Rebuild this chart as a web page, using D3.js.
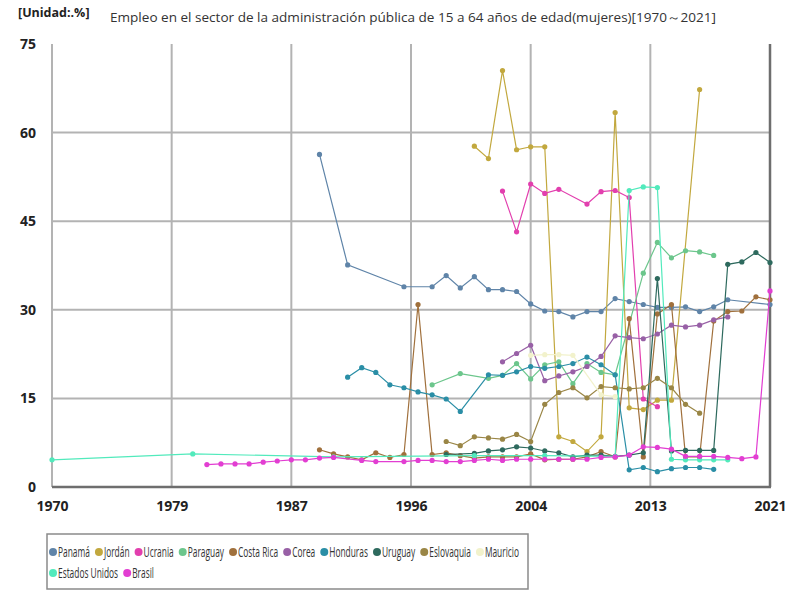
<!DOCTYPE html>
<html>
<head>
<meta charset="utf-8">
<script src="https://cdn.jsdelivr.net/npm/d3@7"></script>
<style>
  body { margin: 0; background: #fff; }
  svg { font-family: "Open Sans", sans-serif; }
</style>
</head>
<body>
<div id="chart"></div>
<script>
// series values: [year, %]
const panama = [[1989,56.3],[1991,37.6],[1995,33.9],[1997,33.9],[1998,35.8],[1999,33.7],[2000,35.6],[2001,33.4],[2002,33.4],[2003,33.1],[2004,31.0],[2005,29.8],[2006,29.7],[2007,28.8],[2008,29.7],[2009,29.7],[2010,31.9],[2011,31.4],[2012,30.9],[2013,30.4],[2014,30.4],[2015,30.5],[2016,29.7],[2017,30.5],[2018,31.7],[2021,30.9]];
const jordan = [[2000,57.7],[2001,55.6],[2002,70.5],[2003,57.1],[2004,57.6],[2005,57.6],[2006,8.5],[2007,7.7],[2008,6.0],[2009,8.5],[2010,63.4],[2011,13.4],[2012,13.1],[2013,14.7],[2014,14.7],[2016,67.3]];
const ucrania = [[2002,50.1],[2003,43.2],[2004,51.3],[2005,49.7],[2006,50.4],[2008,47.9],[2009,50.0],[2010,50.2],[2011,49.0],[2012,14.9],[2013,13.6]];
const paraguay = [[1997,17.3],[1999,19.2],[2001,18.4],[2002,18.9],[2003,20.9],[2004,18.3],[2005,20.7],[2006,21.2],[2007,17.5],[2008,20.9],[2009,19.4],[2010,19.0],[2012,36.2],[2013,41.4],[2014,38.8],[2015,40.0],[2016,39.8],[2017,39.2]];
const costaRica = [[1989,6.3],[1990,5.6],[1991,5.1],[1992,4.6],[1993,5.8],[1994,5.0],[1995,5.5],[1996,30.9],[1997,5.5],[1998,5.8],[1999,5.3],[2000,4.9],[2001,5.1],[2002,5.1],[2003,5.1],[2004,5.6],[2005,4.6],[2006,4.7],[2007,4.7],[2008,5.1],[2009,6.0],[2010,5.1],[2011,28.5],[2012,5.1],[2013,29.3],[2014,30.9],[2015,5.1],[2016,5.1],[2017,28.1],[2018,29.7],[2019,29.8],[2020,32.2],[2021,31.7]];
const corea = [[2002,21.2],[2003,22.6],[2004,24.0],[2005,18.0],[2006,18.8],[2007,19.5],[2008,20.4],[2009,22.1],[2010,25.6],[2011,25.3],[2012,25.1],[2013,25.9],[2014,27.4],[2015,27.1],[2016,27.4],[2017,28.3],[2018,28.8]];
const honduras = [[1991,18.6],[1992,20.2],[1993,19.4],[1994,17.3],[1995,16.8],[1996,16.1],[1997,15.6],[1998,14.9],[1999,12.8],[2001,19.0],[2002,18.9],[2003,19.5],[2004,20.4],[2005,20.1],[2006,20.4],[2007,20.9],[2008,22.0],[2009,20.7],[2010,19.0],[2011,2.9],[2012,3.3],[2013,2.6],[2014,3.1],[2015,3.3],[2016,3.3],[2017,3.0]];
const uruguay = [[1998,5.5],[2000,5.7],[2001,6.1],[2002,6.3],[2003,6.8],[2004,6.6],[2005,6.1],[2006,5.8],[2007,5.1],[2008,5.4],[2009,5.4],[2010,5.2],[2011,5.4],[2012,5.8],[2013,35.3],[2014,6.1],[2015,6.2],[2016,6.2],[2017,6.2],[2018,37.7],[2019,38.1],[2020,39.7],[2021,38.0]];
const eslovaquia = [[1998,7.7],[1999,7.0],[2000,8.5],[2001,8.3],[2002,8.1],[2003,8.9],[2004,7.7],[2005,14.0],[2006,16.0],[2007,16.8],[2008,15.1],[2009,17.0],[2010,16.8],[2011,16.6],[2012,16.8],[2013,18.4],[2014,16.8],[2015,14.0],[2016,12.5]];
const mauricio = [[2004,22.3],[2005,22.4],[2006,22.4],[2007,22.3],[2009,15.6],[2010,15.3]];
const estadosUnidos = [[1970,4.6],[1980,5.6],[1990,5.1],[2000,5.3],[2005,5.3],[2010,5.2],[2011,50.2],[2012,50.8],[2013,50.7],[2014,4.7],[2015,4.6],[2016,4.6],[2017,4.6],[2018,4.6]];
const brasil = [[1981,3.8],[1982,3.9],[1983,3.9],[1984,3.9],[1985,4.2],[1986,4.4],[1987,4.6],[1988,4.6],[1989,4.9],[1990,5.0],[1992,4.5],[1993,4.3],[1995,4.3],[1996,4.5],[1997,4.5],[1998,4.3],[1999,4.3],[2000,4.5],[2001,4.7],[2002,4.5],[2003,4.7],[2004,4.7],[2005,4.7],[2006,4.7],[2007,4.7],[2008,4.7],[2009,5.0],[2010,5.1],[2011,5.4],[2012,6.8],[2013,6.7],[2014,6.4],[2015,5.2],[2016,5.2],[2017,5.2],[2018,5.0],[2019,4.8],[2020,5.1],[2021,33.2]];

const seriesNames = ["Panamá","Jordán","Ucrania","Paraguay","Costa Rica","Corea","Honduras","Uruguay","Eslovaquia","Mauricio","Estados Unidos","Brasil"];
const seriesValues = [panama, jordan, ucrania, paraguay, costaRica, corea, honduras, uruguay, eslovaquia, mauricio, estadosUnidos, brasil];
const seriesColors = ["#5f84a8","#c2a83e","#e23fae","#6cc68c","#a0703c","#9860a6","#2a8ea6","#2e6a5e","#9a8646","#f2f2cc","#52eabc","#e23ed2"];

const xTickLabels = ["1970","1979","1987","1996","2004","2013","2021"];
const yTickValues = [0, 15, 30, 45, 60, 75];

const unitLabel = "[Unidad:.%]";
const titleText = "Empleo en el sector de la administración pública de 15 a 64 años de edad(mujeres)[1970～2021]";

const width = 800, height = 600;
const margin = { top: 44, right: 30, bottom: 113, left: 52 };

const svg = d3.select("#chart").append("svg")
  .attr("width", width)
  .attr("height", height);

const x = d3.scaleLinear()
  .domain([1970, 2021])
  .range([margin.left, width - margin.right]);

const y = d3.scaleLinear()
  .domain([0, 75])
  .range([height - margin.bottom, margin.top]);

const xTickValues = xTickLabels.map((d, i) => 1970 + i * (2021 - 1970) / (xTickLabels.length - 1));

// grid
svg.append("g")
  .selectAll("line")
  .data(yTickValues.filter(d => d > 0 && d < 75))
  .join("line")
  .attr("x1", x(1970)).attr("x2", x(2021))
  .attr("y1", d => y(d)).attr("y2", d => y(d))
  .attr("stroke", "#b3b3b3").attr("stroke-width", 2);

svg.append("g")
  .selectAll("line")
  .data(xTickValues)
  .join("line")
  .attr("x1", d => x(d)).attr("x2", d => x(d))
  .attr("y1", y(75)).attr("y2", y(0))
  .attr("stroke", "#b3b3b3").attr("stroke-width", 2);

// frame: bottom and right edges
svg.append("line")
  .attr("x1", x(1970)).attr("x2", x(2021) + 1)
  .attr("y1", y(0)).attr("y2", y(0))
  .attr("stroke", "#6e6e6e").attr("stroke-width", 2.5);
svg.append("line")
  .attr("x1", x(2021)).attr("x2", x(2021))
  .attr("y1", y(75)).attr("y2", y(0))
  .attr("stroke", "#6e6e6e").attr("stroke-width", 2.5);

// axes (labels only)
const xAxis = svg.append("g")
  .attr("transform", `translate(0,${y(0)})`)
  .call(d3.axisBottom(x).tickValues(xTickValues).tickFormat((d, i) => xTickLabels[i]).tickSize(0).tickPadding(14));
xAxis.select(".domain").remove();
xAxis.selectAll("text")
  .attr("font-family", "'Open Sans', sans-serif")
  .attr("font-size", 14).attr("font-weight", "bold").attr("fill", "#222");

const yAxis = svg.append("g")
  .attr("transform", `translate(${margin.left},0)`)
  .call(d3.axisLeft(y).tickValues(yTickValues).tickSize(0).tickPadding(16));
yAxis.select(".domain").remove();
yAxis.selectAll("text")
  .attr("font-family", "'Open Sans', sans-serif")
  .attr("font-size", 14).attr("font-weight", "bold").attr("fill", "#222");

// lines and points
const line = d3.line()
  .x(d => x(d[0]))
  .y(d => y(d[1]));

seriesValues.forEach((data, i) => {
  const g = svg.append("g");
  g.append("path")
    .datum(data)
    .attr("fill", "none")
    .attr("stroke", seriesColors[i])
    .attr("stroke-width", 1.2)
    .attr("d", line);
  g.selectAll("circle")
    .data(data)
    .join("circle")
    .attr("cx", d => x(d[0]))
    .attr("cy", d => y(d[1]))
    .attr("r", 2.6)
    .attr("fill", seriesColors[i]);
});

// titles
svg.append("text")
  .attr("x", 18).attr("y", 17)
  .attr("font-size", 12.5).attr("font-weight", "bold").attr("fill", "#222")
  .text(unitLabel);

svg.append("text")
  .attr("x", 110).attr("y", 22)
  .attr("font-size", 13).attr("fill", "#333")
  .attr("textLength", 606).attr("lengthAdjust", "spacingAndGlyphs")
  .text(titleText);

// legend: first row holds 10 entries, squeezed horizontally to the box width
const legend = svg.append("g");
legend.append("rect")
  .attr("x", 47).attr("y", 534)
  .attr("width", 481).attr("height", 55)
  .attr("fill", "#fff").attr("stroke", "#8a8a8a").attr("stroke-width", 1.5);

const rowSize = 10, startX = 53, rowEnd = 519, markGap = 5, itemGap = 9;
const items = seriesNames.map((name, i) => {
  const item = legend.append("g");
  item.append("circle").attr("r", 4).attr("fill", seriesColors[i]);
  const t = item.append("text")
    .attr("font-size", 14).attr("fill", "#333")
    .text(name);
  return { item, t, len: t.node().getComputedTextLength() };
});
const row1Len = d3.sum(items.slice(0, rowSize), d => d.len);
const k = (rowEnd - startX - rowSize * markGap - (rowSize - 1) * itemGap) / row1Len;

let lx = startX, ly = 552;
items.forEach((d, i) => {
  if (i === rowSize) { lx = startX; ly += 21; }
  d.t.attr("transform", `translate(${markGap},4.8) scale(${k},1)`);
  d.item.attr("transform", `translate(${lx},${ly})`);
  lx += markGap + d.len * k + itemGap;
});
</script>
</body>
</html>
